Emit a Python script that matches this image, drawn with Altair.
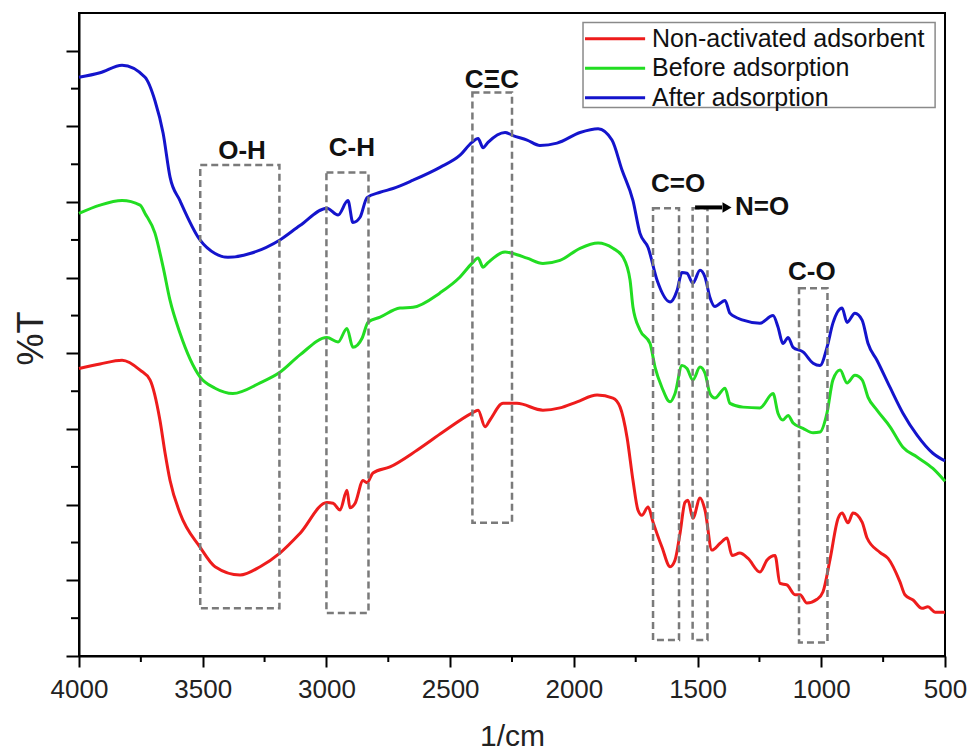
import altair as alt
import pandas as pd

# ---------------- data ----------------
series_names = ["Non-activated adsorbent", "Before adsorption", "After adsorption"]
series_colors = ["#ee1c1c", "#22dd22", "#1414cc"]

wn_red = [4000, 3915, 3826, 3753, 3713, 3673, 3652, 3632, 3592, 3511,
          3450, 3349, 3268, 3188, 3107, 2998, 2973, 2945, 2917, 2905,
          2884, 2852, 2836, 2812, 2743, 2634, 2529, 2412, 2387, 2359,
          2339, 2286, 2230, 2125, 2056, 1987, 1906, 1842, 1813, 1785,
          1761, 1741, 1725, 1700, 1680, 1644, 1611, 1591, 1571, 1551,
          1539, 1519, 1490, 1470, 1442, 1409, 1381, 1361, 1329, 1296,
          1248, 1219, 1187, 1167, 1139, 1106, 1086, 1058, 1017, 993,
          965, 932, 916, 892, 872, 835, 815, 763, 730, 682,
          662, 629, 593, 569, 540, 500]
t_red = [38.0, 38.6, 39.1, 37.8, 36.5, 31.2, 26.8, 23.2, 18.9, 14.4,
         11.8, 10.7, 11.8, 13.6, 16.2, 20.3, 20.2, 19.3, 21.9, 19.6,
         20.2, 23.2, 22.9, 24.2, 25.0, 27.2, 29.6, 32.1, 32.5, 30.3,
         31.2, 33.4, 33.4, 32.5, 32.8, 33.6, 34.5, 34.1, 32.9, 28.9,
         23.2, 19.3, 18.6, 19.7, 17.7, 14.4, 11.8, 12.7, 16.2, 20.3,
         20.6, 18.2, 20.9, 19.3, 14.0, 14.9, 15.6, 13.3, 13.6, 12.9,
         11.1, 12.7, 13.3, 9.6, 9.4, 8.1, 8.1, 7.0, 7.5, 8.5,
         12.7, 18.2, 18.9, 17.6, 18.9, 17.7, 15.6, 13.7, 12.9, 9.8,
         8.1, 7.4, 6.3, 6.5, 5.8, 5.8]

wn_green = [4000, 3915, 3826, 3753, 3733, 3693, 3660, 3632, 3592, 3511,
            3450, 3378, 3268, 3188, 3107, 2998, 2953, 2917, 2893, 2856,
            2832, 2783, 2703, 2650, 2541, 2460, 2412, 2387, 2367, 2347,
            2278, 2246, 2189, 2125, 2056, 1975, 1902, 1842, 1801, 1773,
            1761, 1733, 1692, 1672, 1644, 1611, 1591, 1563, 1543, 1519,
            1490, 1470, 1450, 1430, 1389, 1369, 1316, 1248, 1195, 1175,
            1155, 1134, 1114, 1074, 1033, 1005, 977, 953, 924, 896,
            864, 835, 811, 775, 722, 670, 613, 549, 500]
t_green = [58.5, 59.6, 60.2, 59.6, 58.5, 55.9, 51.4, 47.0, 42.7, 36.9,
           35.4, 34.7, 36.1, 37.5, 39.8, 42.1, 41.5, 43.3, 40.8, 42.0,
           44.1, 44.8, 46.0, 46.1, 48.0, 50.1, 51.9, 52.6, 51.4, 52.0,
           53.4, 53.2, 52.6, 51.9, 52.3, 53.9, 54.6, 53.9, 52.7, 49.7,
           46.1, 43.1, 41.3, 38.2, 35.5, 33.6, 34.7, 38.4, 38.0, 36.5,
           38.2, 37.4, 34.7, 34.1, 35.4, 33.4, 32.9, 32.8, 34.7, 32.1,
           31.2, 31.8, 30.8, 30.1, 29.5, 29.6, 32.1, 36.5, 37.8, 36.1,
           37.1, 36.5, 34.2, 32.5, 30.3, 27.6, 26.3, 24.8, 23.1]

wn_blue = [4000, 3915, 3826, 3733, 3693, 3660, 3632, 3592, 3511, 3450,
           3398, 3309, 3188, 3107, 2998, 2953, 2913, 2893, 2864, 2836,
           2783, 2731, 2650, 2541, 2460, 2412, 2387, 2367, 2347, 2278,
           2246, 2189, 2137, 2068, 1975, 1902, 1846, 1805, 1761, 1733,
           1700, 1664, 1611, 1583, 1563, 1543, 1519, 1490, 1470, 1450,
           1430, 1389, 1369, 1316, 1248, 1195, 1175, 1155, 1134, 1114,
           1074, 1033, 1005, 977, 953, 916, 896, 864, 835, 811,
           775, 722, 670, 613, 549, 500]
t_blue = [76.5, 77.1, 78.1, 76.5, 73.4, 69.1, 63.3, 60.2, 55.0, 53.2,
          52.7, 53.2, 55.0, 56.9, 59.2, 58.3, 60.2, 57.3, 58.0, 60.6,
          61.3, 61.8, 62.9, 64.6, 66.2, 67.9, 68.4, 67.2, 67.9, 69.2,
          68.8, 68.2, 67.5, 67.8, 69.2, 69.7, 68.2, 64.2, 60.2, 55.9,
          54.0, 49.7, 46.8, 48.3, 50.7, 50.6, 49.3, 51.0, 50.1, 47.4,
          46.2, 47.0, 45.3, 44.4, 44.0, 45.0, 43.5, 41.3, 42.1, 40.8,
          40.2, 38.7, 38.4, 40.8, 44.0, 46.0, 44.1, 45.3, 44.4, 41.3,
          39.1, 35.5, 32.1, 29.2, 26.8, 25.8]

# dashed band boxes (wavenumber range, %T range)
box_names = ["O-H", "C-H", "C\u039eC", "C=O", "N=O", "C-O"]
box_wn_hi = [3510, 3000, 2410, 1680, 1520, 1090]
box_wn_lo = [3190, 2830, 2250, 1575, 1460, 975]
box_t_lo = [6.3, 5.7, 17.6, 2.1, 2.1, 1.8]
box_t_hi = [64.9, 63.9, 74.5, 59.2, 59.2, 48.6]

# band labels
label_text = ["O-H", "C-H", "C\u039eC", "C=O", "C-O"]
label_wn = [3341, 2897, 2331, 1579, 1038]
label_t = [66.8, 67.1, 76.2, 62.4, 50.7]
arrow_label = "N=O"
arrow_label_wn = 1349
arrow_wn = [1510, 1401]
arrow_head_wn = 1381
arrow_t = 59.3

x_major = [4000, 3500, 3000, 2500, 2000, 1500, 1000, 500]
x_minor = [3750, 3250, 2750, 2250, 1750, 1250, 750]
y_major = [0, 10, 20, 30, 40, 50, 60, 70, 80]
y_minor = [5, 15, 25, 35, 45, 55, 65, 75]

# legend layout (in data units)
leg_box = dict(wn1=1963, wn2=540, t1=72.5, t2=83.75)
leg_line_wn = [1955, 1712]
leg_text_wn = 1684
leg_row_t = [81.6, 77.7, 73.8]

# ---------------- build tables ----------------
frames = []
for name, wn, t in zip(series_names, [wn_red, wn_green, wn_blue], [t_red, t_green, t_blue]):
    frames.append(pd.DataFrame({"wn": wn, "T": t, "series": name}))
spectra = pd.concat(frames, ignore_index=True)

boxes = pd.DataFrame({"name": box_names, "x1": box_wn_hi, "x2": box_wn_lo,
                      "y1": box_t_lo, "y2": box_t_hi})
labels = pd.DataFrame({"text": label_text, "wn": label_wn, "T": label_t})

W, H = 866, 643
FONT = "Liberation Sans"

xscale = alt.Scale(domain=[500, 4000], reverse=True, nice=False, zero=False)
yscale = alt.Scale(domain=[0, 85], nice=False, zero=False)
cscale = alt.Scale(domain=series_names, range=series_colors)

x_axis = alt.Axis(values=x_major, format="d", tickSize=11, labelFontSize=26, labelFont=FONT,
                  labelColor="#222222", labelPadding=9, labelFlush=False,
                  labelOverlap=False, grid=False, title="1/cm",
                  titleFontSize=30, titleFont=FONT, titleFontWeight="normal",
                  titleColor="#222222", titleX=W / 2, titleY=89,
                  titleAlign="center", titleBaseline="alphabetic")
y_axis = alt.Axis(values=y_major, tickSize=13, labels=False, grid=False,
                  title="%T", titleFontSize=36, titleFont=FONT,
                  titleFontWeight="normal", titleColor="#222222",
                  titleAngle=-90, titleX=-37, titleY=325,
                  titleAlign="center", titleBaseline="alphabetic")

lines = alt.Chart(spectra).mark_line(strokeWidth=3, interpolate="monotone").encode(
    x=alt.X("wn:Q", scale=xscale, axis=x_axis),
    y=alt.Y("T:Q", scale=yscale, axis=y_axis),
    color=alt.Color("series:N", scale=cscale, legend=None),
    detail="series:N",
)

rects = alt.Chart(boxes).mark_rect(fillOpacity=0, stroke="#7a7a7a", strokeWidth=2.5,
                                   strokeDash=[7, 4]).encode(
    x=alt.X("x1:Q", scale=xscale), x2="x2:Q",
    y=alt.Y("y1:Q", scale=yscale), y2="y2:Q",
)

texts = alt.Chart(labels).mark_text(font=FONT, fontSize=26, fontWeight="bold",
                                    color="#111111", baseline="middle", align="center").encode(
    x=alt.X("wn:Q", scale=xscale), y=alt.Y("T:Q", scale=yscale), text="text:N",
)

arrow_df = pd.DataFrame({"x1": [arrow_wn[0]], "x2": [arrow_wn[1]], "T": [arrow_t],
                         "hx": [arrow_head_wn], "lx": [arrow_label_wn], "lab": [arrow_label]})
arrow_line = alt.Chart(arrow_df).mark_rule(color="black", strokeWidth=4).encode(
    x=alt.X("x1:Q", scale=xscale), x2="x2:Q", y=alt.Y("T:Q", scale=yscale))
arrow_head = alt.Chart(arrow_df).mark_point(shape="triangle-right", filled=True,
                                            color="black", size=110, opacity=1).encode(
    x=alt.X("hx:Q", scale=xscale), y=alt.Y("T:Q", scale=yscale))
arrow_text = alt.Chart(arrow_df).mark_text(font=FONT, fontSize=26, fontWeight="bold",
                                           color="#111111", align="left", baseline="middle").encode(
    x=alt.X("lx:Q", scale=xscale), y=alt.Y("T:Q", scale=yscale), text="lab:N")

minor_x = alt.Chart(pd.DataFrame({"wn": x_minor})).mark_rule(color="black", strokeWidth=2).encode(
    x=alt.X("wn:Q", scale=xscale), y=alt.value(H), y2=alt.value(H + 6))
minor_y = alt.Chart(pd.DataFrame({"T": y_minor})).mark_rule(color="black", strokeWidth=2).encode(
    y=alt.Y("T:Q", scale=yscale), x=alt.value(-8), x2=alt.value(0))

leg_frame = alt.Chart(pd.DataFrame([leg_box])).mark_rect(fill="white", stroke="#8a8a8a",
                                                         strokeWidth=1.5).encode(
    x=alt.X("wn1:Q", scale=xscale), x2="wn2:Q",
    y=alt.Y("t1:Q", scale=yscale), y2="t2:Q")
leg_df = pd.DataFrame({"series": series_names, "T": leg_row_t,
                       "a": leg_line_wn[0], "b": leg_line_wn[1], "tx": leg_text_wn})
leg_lines = alt.Chart(leg_df).mark_rule(strokeWidth=3).encode(
    x=alt.X("a:Q", scale=xscale), x2="b:Q", y=alt.Y("T:Q", scale=yscale),
    color=alt.Color("series:N", scale=cscale, legend=None))
leg_text = alt.Chart(leg_df).mark_text(font=FONT, fontSize=25, color="#111111",
                                       align="left", baseline="middle").encode(
    x=alt.X("tx:Q", scale=xscale), y=alt.Y("T:Q", scale=yscale), text="series:N")

chart = alt.layer(
    lines, rects, texts, arrow_line, arrow_head, arrow_text,
    minor_x, minor_y, leg_frame, leg_lines, leg_text,
).properties(
    width=W, height=H,
    autosize=alt.AutoSizeParams(type="none"),
    padding={"left": 79, "top": 13, "right": 27, "bottom": 97},
    background="white",
).configure_view(
    stroke="black", strokeWidth=2
).configure_axis(
    domainColor="black", domainWidth=2, tickColor="black", tickWidth=2
)

chart.save("out.html", embed_options={"renderer": "svg", "actions": False})
